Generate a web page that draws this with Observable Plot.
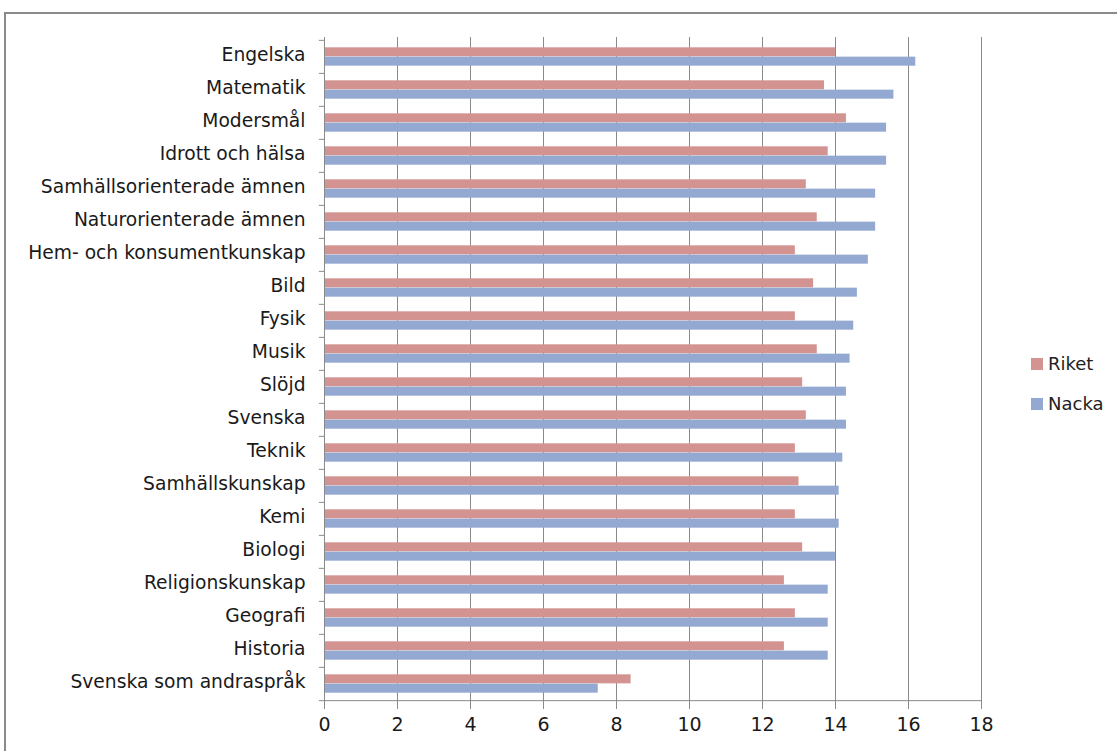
<!DOCTYPE html>
<html>
<head>
<meta charset="utf-8">
<script src="https://cdn.jsdelivr.net/npm/d3@7"></script>
<script src="https://cdn.jsdelivr.net/npm/@observablehq/plot@0.6"></script>
<style>
  body { margin: 0; background: #fff; width: 1117px; height: 751px; overflow: hidden; position: relative; font-family: "DejaVu Sans", sans-serif; }
  #frame { position: absolute; left: 4px; top: 12px; width: 1130px; height: 760px; border: 2px solid #8a8a8a; box-sizing: border-box; }
  #chart { position: absolute; left: 0; top: 0; }
  .leg { position: absolute; left: 1031px; display: flex; align-items: center; font-size: 18px; color: #222; }
  .sw { width: 12px; height: 12px; margin-right: 5px; }
</style>
</head>
<body>
<div id="frame"></div>
<div id="chart"></div>
<div class="leg" style="top:353px"><div class="sw" style="background:#d39391"></div>Riket</div>
<div class="leg" style="top:393px"><div class="sw" style="background:#94a9d2"></div>Nacka</div>
<script>
const subjects = [
  "Engelska", "Matematik", "Modersmål", "Idrott och hälsa",
  "Samhällsorienterade ämnen", "Naturorienterade ämnen",
  "Hem- och konsumentkunskap", "Bild", "Fysik", "Musik", "Slöjd",
  "Svenska", "Teknik", "Samhällskunskap", "Kemi", "Biologi",
  "Religionskunskap", "Geografi", "Historia", "Svenska som andraspråk"
];
const riket = [14.0, 13.7, 14.3, 13.8, 13.2, 13.5, 12.9, 13.4, 12.9, 13.5, 13.1, 13.2, 12.9, 13.0, 12.9, 13.1, 12.6, 12.9, 12.6, 8.4];
const nacka = [16.2, 15.6, 15.4, 15.4, 15.1, 15.1, 14.9, 14.6, 14.5, 14.4, 14.3, 14.3, 14.2, 14.1, 14.1, 14.0, 13.8, 13.8, 13.8, 7.5];
const seriesNames = ["Riket", "Nacka"];
const seriesColors = ["#d39391", "#94a9d2"];
const xTicks = [0, 2, 4, 6, 8, 10, 12, 14, 16, 18];

const W = 1117, H = 751, mL = 324, mR = 136, mT = 37, mB = 48;
const bw = (H - mT - mB) / subjects.length;

const riketData = subjects.map((s, i) => ({subject: s, value: riket[i]}));
const nackaData = subjects.map((s, i) => ({subject: s, value: nacka[i]}));

const chart = Plot.plot({
  width: W, height: H,
  marginLeft: mL, marginRight: mR, marginTop: mT, marginBottom: mB,
  style: {fontFamily: "DejaVu Sans, sans-serif", fontSize: "17px", color: "#1a1a1a", background: "transparent"},
  x: {domain: [0, 18]},
  y: {domain: subjects, padding: 0},
  marks: [
    Plot.gridX(xTicks, {stroke: "#8a8a8a", strokeOpacity: 1, strokeWidth: 1}),
    Plot.barX(riketData, {x: "value", y: "subject", fill: seriesColors[0], insetTop: bw * 0.22, insetBottom: bw * 0.5}),
    Plot.barX(nackaData, {x: "value", y: "subject", fill: seriesColors[1], insetTop: bw * 0.5, insetBottom: bw * 0.22}),
    Plot.ruleY(subjects, {y: d => d, x1: -0.14, x2: 0, dy: -bw / 2, stroke: "#8a8a8a"}),
    Plot.ruleY(subjects.slice(-1), {y: d => d, x1: -0.14, x2: 0, dy: bw / 2, stroke: "#8a8a8a"}),
    Plot.ruleX([0], {stroke: "#8a8a8a", strokeWidth: 1}),
    Plot.axisY({tickSize: 0, tickPadding: 19, label: null, fontSize: 18.7, dy: -2}),
    Plot.axisX({ticks: xTicks, tickSize: 6, tickPadding: 8, label: null, fontSize: 19, stroke: "#8a8a8a", strokeOpacity: 1}),
    Plot.ruleY([subjects[subjects.length - 1]], {dy: bw / 2, stroke: "#8a8a8a"})
  ]
});
document.getElementById("chart").appendChild(chart);
</script>
</body>
</html>
